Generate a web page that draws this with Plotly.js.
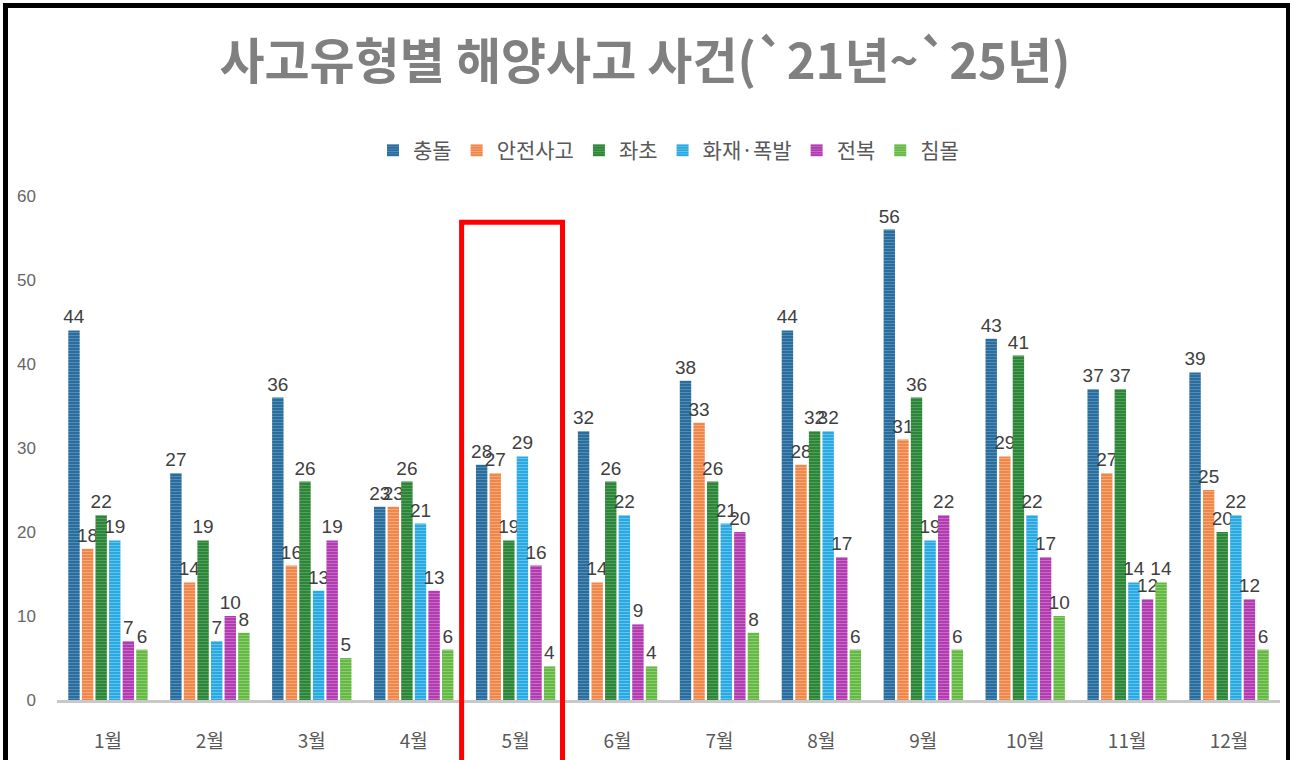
<!DOCTYPE html>
<html>
<head>
<meta charset="utf-8">
<script src="https://cdn.plot.ly/plotly-3.0.1.min.js"></script>
<style>
  html, body { margin: 0; padding: 0; background: #ffffff; }
  #frame { position: absolute; left: 3px; top: 3px; width: 1278px; height: 752px;
           border-left: 5px solid #000; border-top: 5px solid #000; border-right: 4px solid #000;
           border-bottom: 2px solid #b0b0b0; background: #fff; }
  #chart { position: absolute; left: 0; top: 0; width: 1290px; height: 760px; }
</style>
</head>
<body>
<div id="frame"></div>
<div id="chart"></div>
<script>
const months = ['1월','2월','3월','4월','5월','6월','7월','8월','9월','10월','11월','12월'];
const seriesNames = ['충돌','안전사고','좌초','화재·폭발','전복','침몰'];
const collision   = [44, 27, 36, 23, 28, 32, 38, 44, 56, 43, 37, 39];
const safety      = [18, 14, 16, 23, 27, 14, 33, 28, 31, 29, 27, 25];
const grounding   = [22, 19, 26, 26, 19, 26, 26, 32, 36, 41, 37, 20];
const fireExplode = [19,  7, 13, 21, 29, 22, 21, 32, 19, 22, 14, 22];
const capsize     = [ 7, 10, 19, 13, 16,  9, 20, 17, 22, 17, 12, 12];
const sinking     = [ 6,  8,  5,  6,  4,  4,  8,  6,  6, 10, 14,  6];
const highlightMonth = '5월';

const seriesValues = [collision, safety, grounding, fireExplode, capsize, sinking];
const colors   = ['#2B6C9A', '#F0874A', '#2E8539', '#2AA8E0', '#B03CB0', '#66B846'];
const fgColors = ['#4F8DBB', '#F7A878', '#4FA05A', '#63C3EC', '#C86AC8', '#8ACE6E'];

const traces = seriesNames.map((name, i) => ({
  type: 'bar',
  name: name,
  x: months,
  y: seriesValues[i],
  text: seriesValues[i].map(String),
  textposition: 'outside',
  constraintext: 'none',
  cliponaxis: false,
  textfont: { family: 'Liberation Sans, Arial, sans-serif', size: 19, color: '#404040' },
  marker: {
    color: colors[i],
    line: { width: 0 },
    pattern: { shape: '-', fgcolor: fgColors[i], bgcolor: colors[i], size: 3, solidity: 0.35 }
  },
  hoverinfo: 'x+y+name'
}));

const hIdx = months.indexOf(highlightMonth);

const layout = {
  width: 1290,
  height: 760,
  paper_bgcolor: 'rgba(0,0,0,0)',
  plot_bgcolor: 'rgba(0,0,0,0)',
  margin: { l: 57, r: 10, t: 196, b: 60 },
  title: {
    text: '<b>사고유형별 해양사고 사건(`21년~`25년)</b>',
    font: { family: 'Noto Sans CJK KR, sans-serif', size: 49, color: '#808080' },
    x: 0.5, xanchor: 'center', y: 0.918, yanchor: 'middle'
  },
  showlegend: true,
  legend: {
    orientation: 'h', x: 0.5, xanchor: 'center', y: 1.09, yanchor: 'middle',
    font: { family: 'Noto Sans CJK KR, sans-serif', size: 21, color: '#595959' },
    itemwidth: 12, tracegroupgap: 0, itemclick: false
  },
  barmode: 'group',
  bargap: 0.2,
  bargroupgap: 0.16,
  xaxis: {
    type: 'category',
    showgrid: false,
    showline: true, linecolor: '#c8c8c8', linewidth: 3,
    ticks: '',
    tickfont: { family: 'Noto Sans CJK KR, sans-serif', size: 19, color: '#595959' },
    ticklabelstandoff: 22
  },
  yaxis: {
    range: [0, 60],
    dtick: 10,
    showgrid: false,
    zeroline: false,
    showline: false,
    ticks: '',
    tickfont: { family: 'Liberation Sans, Arial, sans-serif', size: 17, color: '#666666' },
    ticklabelstandoff: 20
  },
  shapes: [{
    type: 'rect', xref: 'x', yref: 'paper',
    x0: hIdx - 0.53, x1: hIdx + 0.46, y0: -0.135, y1: 0.948,
    line: { color: '#FF0000', width: 5 }, fillcolor: 'rgba(0,0,0,0)'
  }]
};

Plotly.newPlot('chart', traces, layout, { displayModeBar: false, responsive: false });
</script>
</body>
</html>
